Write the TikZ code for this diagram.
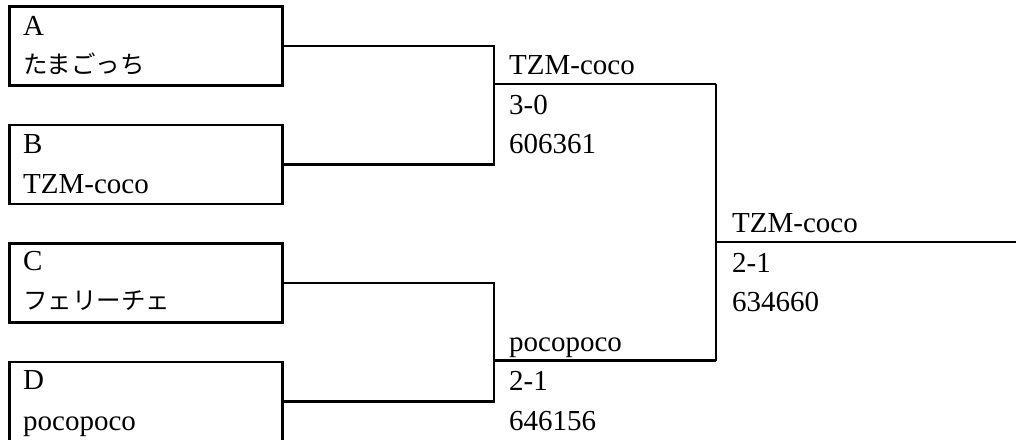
\documentclass[tikz,border=0pt]{standalone}
\usepackage{fontspec}
\setmainfont{Liberation Serif}
\newfontfamily\jp{Noto Sans CJK JP}
\begin{document}
\begin{tikzpicture}[x=1pt,y=-1pt]
\tikzset{
  entrybox/.style={draw, line width=2.5pt, minimum width=273pt, minimum height=79pt, inner sep=0pt, anchor=north west},
  lbl/.style={anchor=base west, inner sep=0pt, font=\fontsize{29}{29}\selectfont},
  jlbl/.style={anchor=base west, inner sep=0pt, font=\jp\fontsize{24.5}{24.5}\selectfont},
  wire/.style={line width=2.5pt}
}
\useasboundingbox (0,0) rectangle (1016,439);
% entry boxes
\node[entrybox] (A) at (8,5) {};
\node[entrybox] (B) at (8,123.5) {};
\node[entrybox] (C) at (8,242) {};
\node[entrybox] (D) at (8,360.5) {};
% entry texts
\node[lbl]  (tA1) at (23,35) {A};
\node[jlbl] (tA2) at (23,73) {たまごっち};
\node[lbl]  (tB1) at (23,153.5) {B};
\node[lbl]  (tB2) at (23,193) {TZM-coco};
\node[lbl]  (tC1) at (23,270) {C};
\node[jlbl] (tC2) at (23,309) {フェリーチェ};
\node[lbl]  (tD1) at (23,389) {D};
\node[lbl]  (tD2) at (23,430) {pocopoco};
% round 1 results
\node[lbl] (r1a) at (509,74.5) {TZM-coco};
\node[lbl] (r1b) at (509,114) {3-0};
\node[lbl] (r1c) at (509,153.5) {606361};
\node[lbl] (r2a) at (509,351) {pocopoco};
\node[lbl] (r2b) at (509,390.5) {2-1};
\node[lbl] (r2c) at (509,430) {646156};
% final result
\node[lbl] (fa) at (732,232.5) {TZM-coco};
\node[lbl] (fb) at (732,272) {2-1};
\node[lbl] (fc) at (732,311.5) {634660};
% junctions
\coordinate (m1) at (494,84);
\coordinate (m2) at (494,360.5);
\coordinate (f1) at (716,84);
\coordinate (f2) at (716,360.5);
\coordinate (fm) at (716,242);
\coordinate (out) at (1016,242);
% connectors
\draw[wire] (A.east) -| (m1);
\draw[wire] (B.east) -| (m1);
\draw[wire] (m1) -- (f1);
\draw[wire] (C.east) -| (m2);
\draw[wire] (D.east) -| (m2);
\draw[wire] (m2) -- (f2);
\draw[wire] (f1) -- (f2);
\draw[wire] (fm) -- (out);
\end{tikzpicture}
\end{document}
